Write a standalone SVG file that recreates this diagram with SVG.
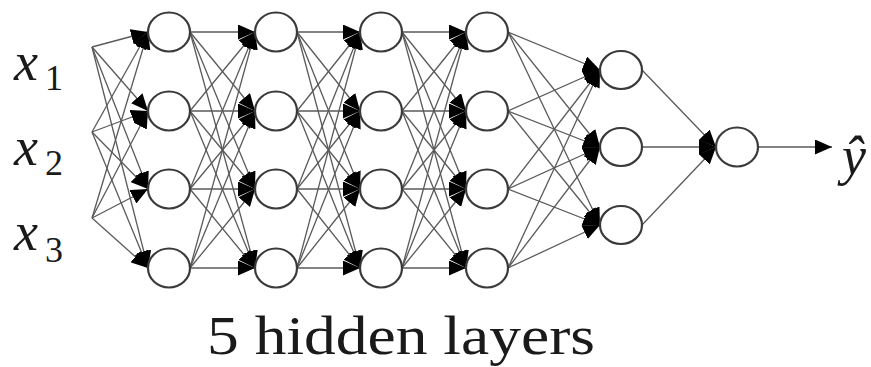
<svg xmlns="http://www.w3.org/2000/svg" width="871" height="367" viewBox="0 0 871 367">
  <style>
    .edge line { stroke: #5a5a5a; stroke-width: 1.3; marker-end: url(#ah); }
    .node ellipse { fill: #ffffff; stroke: #3a3a3a; stroke-width: 2.2; }
    .math { font-family: "Liberation Serif", "DejaVu Serif", serif; font-style: italic; fill: #1a1a1a; }
    .sub { font-family: "Liberation Serif", "DejaVu Serif", serif; fill: #1a1a1a; }
    .caption { font-family: "Liberation Serif", "DejaVu Serif", serif; font-size: 55px; fill: #1a1a1a; }
  </style>
  <defs>
    <marker id="ah" markerUnits="userSpaceOnUse" viewBox="0 0 17 15" refX="17" refY="7.5" markerWidth="17" markerHeight="15" orient="auto">
      <path d="M0,0 L17,7.5 L0,15 z" fill="#000"/>
    </marker>
  </defs>
  <rect width="871" height="367" fill="#ffffff"/>

  <!-- connectors -->
  <g id="connectors" class="edge">
    <!-- inputs to hidden layer 1 -->
    <line x1="92" y1="47" x2="148" y2="32"/><line x1="92" y1="47" x2="148" y2="111"/><line x1="92" y1="47" x2="148" y2="189"/><line x1="92" y1="47" x2="148" y2="268"/>
    <line x1="92" y1="132" x2="148" y2="32"/><line x1="92" y1="132" x2="148" y2="111"/><line x1="92" y1="132" x2="148" y2="189"/><line x1="92" y1="132" x2="148" y2="268"/>
    <line x1="92" y1="218" x2="148" y2="32"/><line x1="92" y1="218" x2="148" y2="111"/><line x1="92" y1="218" x2="148" y2="189"/><line x1="92" y1="218" x2="148" y2="268"/>
    <!-- hidden 1 to hidden 2 -->
    <line x1="190" y1="32" x2="255" y2="32"/><line x1="190" y1="32" x2="255" y2="111"/><line x1="190" y1="32" x2="255" y2="189"/><line x1="190" y1="32" x2="255" y2="268"/>
    <line x1="190" y1="111" x2="255" y2="32"/><line x1="190" y1="111" x2="255" y2="111"/><line x1="190" y1="111" x2="255" y2="189"/><line x1="190" y1="111" x2="255" y2="268"/>
    <line x1="190" y1="189" x2="255" y2="32"/><line x1="190" y1="189" x2="255" y2="111"/><line x1="190" y1="189" x2="255" y2="189"/><line x1="190" y1="189" x2="255" y2="268"/>
    <line x1="190" y1="268" x2="255" y2="32"/><line x1="190" y1="268" x2="255" y2="111"/><line x1="190" y1="268" x2="255" y2="189"/><line x1="190" y1="268" x2="255" y2="268"/>
    <!-- hidden 2 to hidden 3 -->
    <line x1="297" y1="32" x2="360" y2="32"/><line x1="297" y1="32" x2="360" y2="111"/><line x1="297" y1="32" x2="360" y2="189"/><line x1="297" y1="32" x2="360" y2="268"/>
    <line x1="297" y1="111" x2="360" y2="32"/><line x1="297" y1="111" x2="360" y2="111"/><line x1="297" y1="111" x2="360" y2="189"/><line x1="297" y1="111" x2="360" y2="268"/>
    <line x1="297" y1="189" x2="360" y2="32"/><line x1="297" y1="189" x2="360" y2="111"/><line x1="297" y1="189" x2="360" y2="189"/><line x1="297" y1="189" x2="360" y2="268"/>
    <line x1="297" y1="268" x2="360" y2="32"/><line x1="297" y1="268" x2="360" y2="111"/><line x1="297" y1="268" x2="360" y2="189"/><line x1="297" y1="268" x2="360" y2="268"/>
    <!-- hidden 3 to hidden 4 -->
    <line x1="402" y1="32" x2="466" y2="32"/><line x1="402" y1="32" x2="466" y2="111"/><line x1="402" y1="32" x2="466" y2="189"/><line x1="402" y1="32" x2="466" y2="268"/>
    <line x1="402" y1="111" x2="466" y2="32"/><line x1="402" y1="111" x2="466" y2="111"/><line x1="402" y1="111" x2="466" y2="189"/><line x1="402" y1="111" x2="466" y2="268"/>
    <line x1="402" y1="189" x2="466" y2="32"/><line x1="402" y1="189" x2="466" y2="111"/><line x1="402" y1="189" x2="466" y2="189"/><line x1="402" y1="189" x2="466" y2="268"/>
    <line x1="402" y1="268" x2="466" y2="32"/><line x1="402" y1="268" x2="466" y2="111"/><line x1="402" y1="268" x2="466" y2="189"/><line x1="402" y1="268" x2="466" y2="268"/>
    <!-- hidden 4 to hidden 5 -->
    <line x1="508" y1="32" x2="600" y2="70"/><line x1="508" y1="32" x2="600" y2="147"/><line x1="508" y1="32" x2="600" y2="225"/>
    <line x1="508" y1="111" x2="600" y2="70"/><line x1="508" y1="111" x2="600" y2="147"/><line x1="508" y1="111" x2="600" y2="225"/>
    <line x1="508" y1="189" x2="600" y2="70"/><line x1="508" y1="189" x2="600" y2="147"/><line x1="508" y1="189" x2="600" y2="225"/>
    <line x1="508" y1="268" x2="600" y2="70"/><line x1="508" y1="268" x2="600" y2="147"/><line x1="508" y1="268" x2="600" y2="225"/>
    <!-- hidden 5 to output -->
    <line x1="642" y1="70" x2="716" y2="147"/><line x1="642" y1="147" x2="716" y2="147"/><line x1="642" y1="225" x2="716" y2="147"/>
    <!-- output to prediction -->
    <line x1="758" y1="147" x2="832" y2="147"/>
  </g>

  <!-- inputs -->
  <g id="x1"><text class="math" x="14" y="80" font-size="54">x</text><text class="sub" x="45" y="90" font-size="36">1</text></g>
  <g id="x2"><text class="math" x="14" y="165" font-size="54">x</text><text class="sub" x="45" y="175" font-size="36">2</text></g>
  <g id="x3"><text class="math" x="14" y="250" font-size="54">x</text><text class="sub" x="45" y="262" font-size="36">3</text></g>

  <!-- hidden layer 1 -->
  <g id="h1" class="node">
    <ellipse cx="169" cy="32" rx="21" ry="19.5"/><ellipse cx="169" cy="111" rx="21" ry="19.5"/>
    <ellipse cx="169" cy="189" rx="21" ry="19.5"/><ellipse cx="169" cy="268" rx="21" ry="19.5"/>
  </g>
  <!-- hidden layer 2 -->
  <g id="h2" class="node">
    <ellipse cx="276" cy="32" rx="21" ry="19.5"/><ellipse cx="276" cy="111" rx="21" ry="19.5"/>
    <ellipse cx="276" cy="189" rx="21" ry="19.5"/><ellipse cx="276" cy="268" rx="21" ry="19.5"/>
  </g>
  <!-- hidden layer 3 -->
  <g id="h3" class="node">
    <ellipse cx="381" cy="32" rx="21" ry="19.5"/><ellipse cx="381" cy="111" rx="21" ry="19.5"/>
    <ellipse cx="381" cy="189" rx="21" ry="19.5"/><ellipse cx="381" cy="268" rx="21" ry="19.5"/>
  </g>
  <!-- hidden layer 4 -->
  <g id="h4" class="node">
    <ellipse cx="487" cy="32" rx="21" ry="19.5"/><ellipse cx="487" cy="111" rx="21" ry="19.5"/>
    <ellipse cx="487" cy="189" rx="21" ry="19.5"/><ellipse cx="487" cy="268" rx="21" ry="19.5"/>
  </g>
  <!-- hidden layer 5 -->
  <g id="h5" class="node">
    <ellipse cx="621" cy="70" rx="21" ry="19"/><ellipse cx="621" cy="147" rx="21" ry="19"/>
    <ellipse cx="621" cy="225" rx="21" ry="19"/>
  </g>
  <!-- output unit -->
  <g id="out" class="node">
    <ellipse cx="737" cy="147" rx="21" ry="19.5"/>
  </g>
  <g id="yhat"><text class="math" x="842" y="174" font-size="54">ŷ</text></g>

  <text class="caption" x="207" y="354" textLength="388" lengthAdjust="spacingAndGlyphs">5 hidden layers</text>
</svg>
